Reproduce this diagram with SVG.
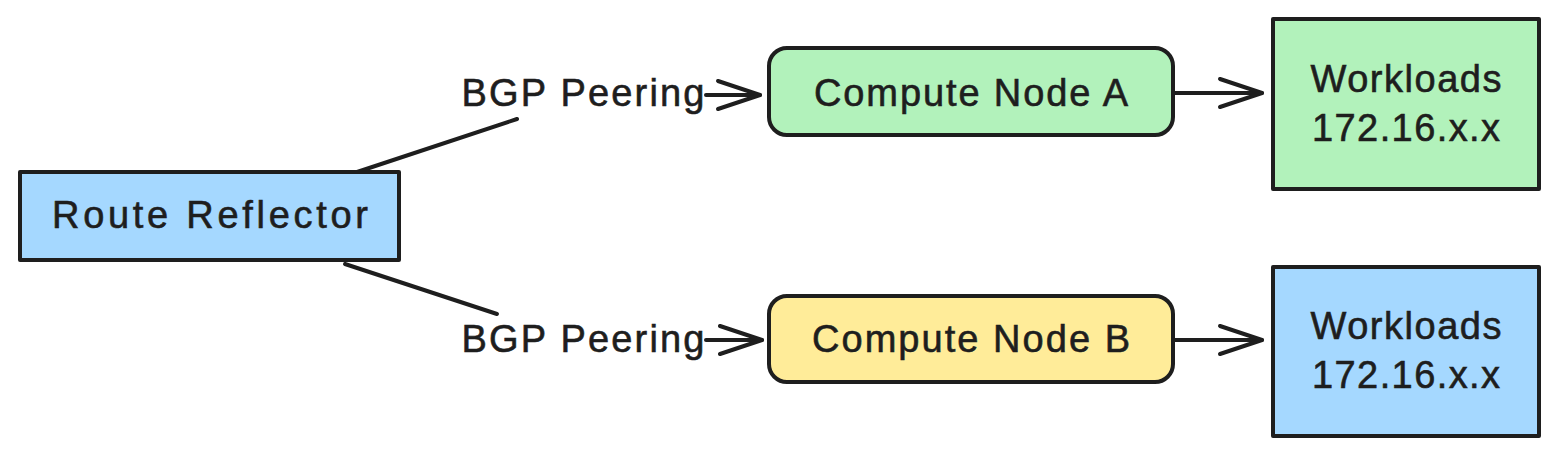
<svg xmlns="http://www.w3.org/2000/svg" width="1559" height="456" viewBox="0 0 1559 456">
  <style>
    .box { stroke: #1e1e1e; stroke-width: 4; stroke-linejoin: round; }
    .lbl { font-family: "Liberation Sans", Arial, sans-serif; font-size: 38px; fill: #1e1e1e; stroke: #1e1e1e; stroke-width: 0.6; text-anchor: middle; }
    .edge { stroke: #1e1e1e; stroke-width: 4; fill: none; stroke-linecap: round; stroke-linejoin: round; }
    .green { fill: #b2f2bb; }
    .blue { fill: #a5d8ff; }
    .yellow { fill: #ffec99; }
  </style>
  <defs>
    <marker id="arrow" viewBox="-50 -20 56 40" refX="0" refY="0" markerWidth="56" markerHeight="40" markerUnits="userSpaceOnUse" orient="auto" overflow="visible">
      <path d="M -42 -14 L 0 0 L -42 14" fill="none" stroke="#1e1e1e" stroke-width="4" stroke-linecap="round" stroke-linejoin="round"/>
    </marker>
  </defs>
  <rect width="1559" height="456" fill="#ffffff"/>

  <g id="connectors">
    <g id="rr-to-a">
      <path class="edge" d="M 345 176 L 517 119"/>
      <path class="edge" d="M 706 95 L 760 95" marker-end="url(#arrow)"/>
      <text class="lbl" x="583" y="106" textLength="243" lengthAdjust="spacing">BGP Peering</text>
    </g>
    <g id="rr-to-b">
      <path class="edge" d="M 345 264 L 497 314"/>
      <path class="edge" d="M 706 340 L 762 340" marker-end="url(#arrow)"/>
      <text class="lbl" x="583" y="352" textLength="243" lengthAdjust="spacing">BGP Peering</text>
    </g>
    <g id="a-to-wa">
      <path class="edge" d="M 1175 93 L 1262 93" marker-end="url(#arrow)"/>
    </g>
    <g id="b-to-wb">
      <path class="edge" d="M 1175 340 L 1262 340" marker-end="url(#arrow)"/>
    </g>
  </g>

  <g id="route-reflector">
    <rect class="box blue" x="20" y="172" width="379" height="88"/>
    <text class="lbl" x="210" y="228" textLength="316" lengthAdjust="spacing">Route Reflector</text>
  </g>

  <g id="compute-node-a">
    <rect class="box green" x="769" y="48" width="404" height="87" rx="18" ry="18"/>
    <text class="lbl" x="971" y="106" textLength="314" lengthAdjust="spacing">Compute Node A</text>
  </g>

  <g id="compute-node-b">
    <rect class="box yellow" x="769" y="296" width="404" height="86" rx="18" ry="18"/>
    <text class="lbl" x="971" y="352" textLength="318" lengthAdjust="spacing">Compute Node B</text>
  </g>

  <g id="workloads-a">
    <rect class="box green" x="1273" y="19" width="266" height="170"/>
    <text class="lbl" x="1406" y="92" textLength="191" lengthAdjust="spacing">Workloads</text>
    <text class="lbl" x="1406" y="141" textLength="188" lengthAdjust="spacing">172.16.x.x</text>
  </g>

  <g id="workloads-b">
    <rect class="box blue" x="1273" y="267" width="266" height="169"/>
    <text class="lbl" x="1406" y="339" textLength="191" lengthAdjust="spacing">Workloads</text>
    <text class="lbl" x="1406" y="388" textLength="188" lengthAdjust="spacing">172.16.x.x</text>
  </g>
</svg>
